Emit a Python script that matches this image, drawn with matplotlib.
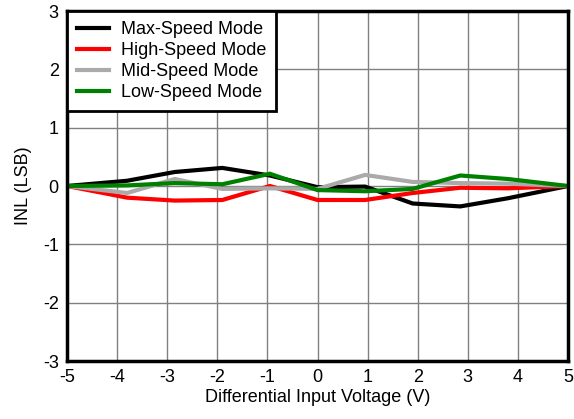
import matplotlib.pyplot as plt

plt.rcParams['font.family'] = ['Liberation Sans', 'DejaVu Sans']
plt.rcParams['axes.unicode_minus'] = False

# INL sweep points (V)
voltage = [-5, -3.8, -2.85, -1.9, -0.95, 0, 0.95, 1.9, 2.85, 3.8, 5]

inl_max = [0, 0.09, 0.24, 0.31, 0.18, -0.02, -0.01, -0.30, -0.35, -0.21, 0]
inl_high = [0, -0.20, -0.25, -0.24, 0.0, -0.24, -0.24, -0.12, -0.03, -0.04, 0]
inl_mid = [0, -0.12, 0.12, -0.05, -0.04, -0.05, 0.19, 0.07, 0.05, 0.04, 0]
inl_low = [0, 0.01, 0.05, 0.03, 0.21, -0.07, -0.09, -0.05, 0.18, 0.12, 0]

series = [
    ("Max-Speed Mode", inl_max, "black"),
    ("High-Speed Mode", inl_high, "#ff0000"),
    ("Mid-Speed Mode", inl_mid, "#aaaaaa"),
    ("Low-Speed Mode", inl_low, "#008000"),
]

fig = plt.figure(figsize=(5.74, 4.19), dpi=100)
ax = fig.add_axes([67 / 574, 1 - 361 / 419, (568 - 67) / 574, (361 - 11) / 419])

for label, vals, color in series:
    ax.plot(voltage, vals, color=color, lw=3, label=label, solid_joinstyle='miter')

ax.set_xlim(-5, 5)
ax.set_ylim(-3, 3)
ax.set_xticks(range(-5, 6))
ax.set_yticks(range(-3, 4))
ax.grid(True, color='#808080', lw=1)
ax.set_axisbelow(True)
for s in ax.spines.values():
    s.set_linewidth(2.5)
ax.tick_params(labelsize=13, length=0, pad=6)
ax.set_xlabel("Differential Input Voltage (V)", fontsize=13, labelpad=2)
ax.set_ylabel("INL (LSB)", fontsize=13, labelpad=8)

leg = ax.legend(loc='upper left', fontsize=13, handlelength=1.8, frameon=True,
                fancybox=False, borderaxespad=0, labelspacing=0.22,
                borderpad=0.55, handletextpad=0.65)
leg.get_frame().set_edgecolor('black')
leg.get_frame().set_linewidth(2)
leg.get_frame().set_alpha(1)

fig.savefig("out.png", dpi=100)
